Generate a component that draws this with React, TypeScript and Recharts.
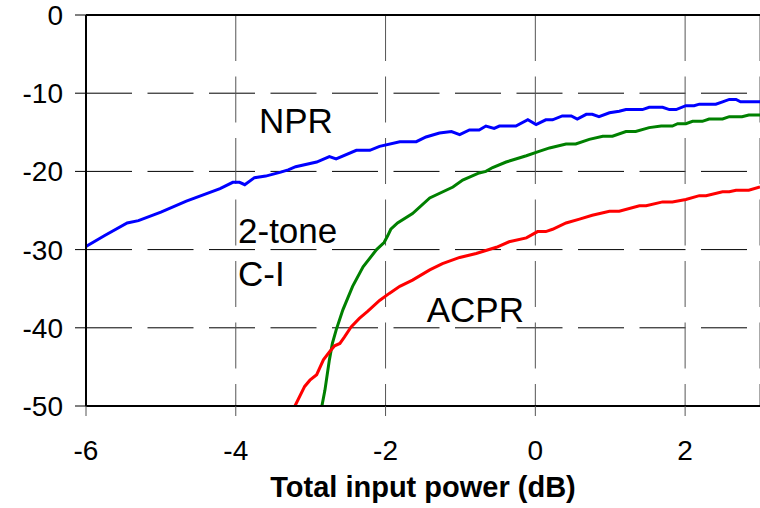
import { CartesianGrid, Line, LineChart, ReferenceDot, XAxis, YAxis } from "recharts";

const FONT = '"Liberation Sans", Arial, sans-serif';

const xTicks = [-6, -4, -2, 0, 2];
const yTicks = [0, -10, -20, -30, -40, -50];
const innerY = [-10, -20, -30, -40];
const frameY = [0, -50];

const npr = [
  [-6, -29.6], [-5.75, -28.2], [-5.45, -26.6], [-5.3, -26.3], [-5.0, -25.2], [-4.66, -23.8],
  [-4.21, -22.2], [-4.04, -21.4], [-3.95, -21.4], [-3.88, -21.7], [-3.75, -20.8], [-3.6, -20.6],
  [-3.4, -20.1], [-3.3, -19.8], [-3.2, -19.4], [-2.92, -18.8], [-2.75, -18.1], [-2.66, -18.4],
  [-2.39, -17.3], [-2.21, -17.3], [-2.08, -16.8], [-1.81, -16.2], [-1.59, -16.2], [-1.46, -15.6],
  [-1.28, -15.1], [-1.12, -14.9], [-1.01, -15.3], [-0.88, -14.7], [-0.75, -14.7], [-0.66, -14.2],
  [-0.55, -14.5], [-0.48, -14.2], [-0.26, -14.2], [-0.1, -13.4], [0.01, -14.0], [0.14, -13.4],
  [0.23, -13.4], [0.36, -12.9], [0.48, -12.9], [0.56, -13.3], [0.68, -12.7], [0.76, -12.7],
  [0.85, -13.0], [0.99, -12.5], [1.12, -12.3], [1.21, -12.1], [1.43, -12.1], [1.52, -11.8],
  [1.7, -11.8], [1.79, -12.1], [1.88, -12.1], [2.01, -11.6], [2.12, -11.6], [2.19, -11.4],
  [2.41, -11.4], [2.5, -11.1], [2.59, -10.8], [2.68, -10.8], [2.74, -11.1], [3.0, -11.1],
];

const twoTone = [
  [-2.85, -50], [-2.81, -48.0], [-2.77, -45.4], [-2.75, -44.1], [-2.71, -42.0], [-2.66, -40.3],
  [-2.57, -37.7], [-2.44, -34.7], [-2.3, -32.2], [-2.12, -30.0], [-2.02, -29.1], [-1.97, -28.2],
  [-1.93, -27.4], [-1.84, -26.6], [-1.64, -25.4], [-1.41, -23.4], [-1.1, -22.0], [-0.97, -21.1],
  [-0.75, -20.2], [-0.66, -20.0], [-0.57, -19.5], [-0.39, -18.8], [-0.12, -18.0], [0.03, -17.5],
  [0.19, -17.0], [0.41, -16.5], [0.54, -16.5], [0.72, -15.9], [0.9, -15.5], [1.03, -15.5],
  [1.21, -14.9], [1.34, -14.9], [1.52, -14.4], [1.68, -14.2], [1.83, -14.2], [1.9, -13.9],
  [2.01, -13.9], [2.1, -13.6], [2.23, -13.6], [2.32, -13.3], [2.5, -13.3], [2.59, -13.0],
  [2.76, -13.0], [2.85, -12.8], [3.0, -12.8],
];

const acpr = [
  [-3.21, -50], [-3.08, -47.5], [-3.01, -46.7], [-2.92, -46.0], [-2.83, -44.1], [-2.75, -43.1],
  [-2.68, -42.3], [-2.61, -42.0], [-2.55, -41.2], [-2.46, -39.9], [-2.35, -38.8], [-2.24, -37.9],
  [-2.08, -36.5], [-1.95, -35.6], [-1.81, -34.7], [-1.64, -33.9], [-1.41, -32.6], [-1.24, -31.8],
  [-1.01, -31.0], [-0.79, -30.5], [-0.52, -29.7], [-0.35, -29.0], [-0.12, -28.5], [0.03, -27.7],
  [0.14, -27.7], [0.23, -27.4], [0.41, -26.6], [0.59, -26.1], [0.76, -25.6], [0.99, -25.1],
  [1.12, -25.1], [1.39, -24.4], [1.48, -24.4], [1.7, -23.9], [1.83, -23.9], [2.01, -23.6],
  [2.19, -23.1], [2.28, -23.1], [2.5, -22.6], [2.59, -22.6], [2.68, -22.4], [2.85, -22.4],
  [3.0, -22.0],
];

// curve labels: text, anchor x, baseline y (data units)
const notes: [string, number, number][] = [
  ["NPR", -3.69, -15.1],
  ["2-tone", -3.97, -29.2],
  ["C-I", -3.97, -34.7],
  ["ACPR", -1.45, -39.3],
];

const toPts = (arr: number[][]) => arr.map(([x, y]) => ({ x, y }));

const tickStyle = { fontSize: 28, fill: "#000", fontFamily: FONT };

export default function App() {
  return (
    <div style={{ position: "absolute", left: 0, top: 0, width: 760, height: 508, overflow: "hidden", background: "#fff" }}>
      <LineChart width={760} height={508} margin={{ top: 15, right: 0, left: 0, bottom: 0 }}>
        <CartesianGrid vertical={false} horizontalValues={innerY} stroke="#000" strokeDasharray="46 15.5" />
        <CartesianGrid horizontal={false} stroke="#555" strokeDasharray="46 15.5" />
        <CartesianGrid vertical={false} horizontalValues={frameY} stroke="#000" strokeWidth={2} />
        <XAxis
          type="number"
          dataKey="x"
          domain={[-6, 3]}
          ticks={xTicks}
          interval={0}
          allowDataOverflow
          height={102}
          tickSize={10}
          tickMargin={24}
          tick={tickStyle}
          axisLine={{ stroke: "#000", strokeWidth: 2 }}
          tickLine={{ stroke: "#555" }}
          label={{ value: "Total input power (dB)", position: "insideBottom", offset: 11, fontSize: 29, fontWeight: "bold", fill: "#000", fontFamily: FONT }}
        />
        <YAxis
          type="number"
          dataKey="y"
          domain={[-50, 0]}
          ticks={yTicks}
          interval={0}
          allowDataOverflow
          width={86}
          tickSize={11}
          tickMargin={12}
          tick={tickStyle}
          axisLine={{ stroke: "#000", strokeWidth: 2 }}
          tickLine={{ stroke: "#000" }}
        />
        <Line data={toPts(npr)} dataKey="y" type="linear" stroke="#0000ff" strokeWidth={3} dot={false} isAnimationActive={false} />
        <Line data={toPts(twoTone)} dataKey="y" type="linear" stroke="#008000" strokeWidth={3} dot={false} isAnimationActive={false} />
        <Line data={toPts(acpr)} dataKey="y" type="linear" stroke="#ff0000" strokeWidth={3} dot={false} isAnimationActive={false} />
        {notes.map(([text, x, y]) => (
          <ReferenceDot
            key={text}
            x={x}
            y={y}
            r={0}
            shape={(p: any) => (
              <text x={p.cx} y={p.cy} fontSize={35} fontFamily={FONT} fill="#000">
                {text}
              </text>
            )}
          />
        ))}
      </LineChart>
    </div>
  );
}
